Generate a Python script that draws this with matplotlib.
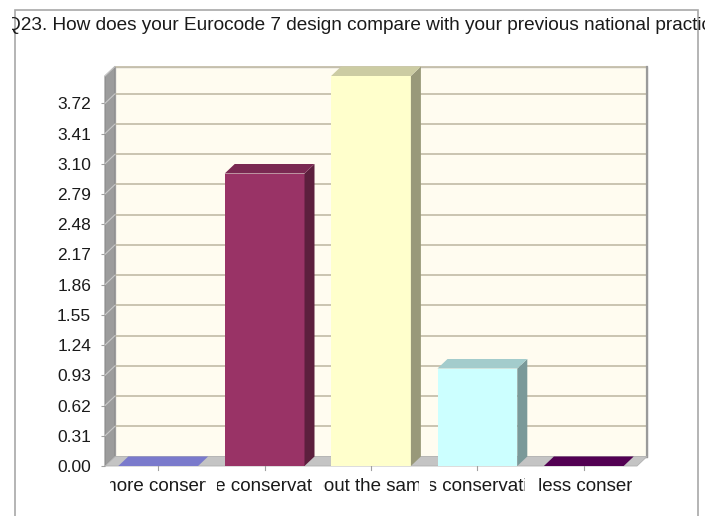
import matplotlib
matplotlib.use("Agg")
import matplotlib.pyplot as plt
from matplotlib.patches import Polygon, Rectangle
from matplotlib.transforms import Bbox, TransformedBbox
import matplotlib.colors as mcolors

# Survey answers and counts
categories = ["much more conservative", "more conservative", "about the same",
              "less conservative", "much less conservative"]
values = [0, 3, 4, 1, 0]
bar_colors = ["#9999FF", "#993366", "#FFFFCC", "#CCFFFF", "#660066"]
ytick_values = [0.00, 0.31, 0.62, 0.93, 1.24, 1.55, 1.86, 2.17, 2.48, 2.79, 3.10, 3.41, 3.72]
ytick_labels = ["0.00", "0.31", "0.62", "0.93", "1.24", "1.55", "1.86", "2.17",
                "2.48", "2.79", "3.10", "3.41", "3.72"]
title = "Q23. How does your Eurocode 7 design compare with your previous national practice?"
y_max = 4.0

plt.rcParams["font.family"] = ["Liberation Sans", "DejaVu Sans"]

W, H = 705, 516
fig = plt.figure(figsize=(W / 100, H / 100), dpi=100)
fig.patch.set_facecolor("white")

# Front plane of the 3-D box, in pixels
left_px, right_px, bottom_px, top_px = 105, 637, 466, 76
ax = fig.add_axes([left_px / W, 1 - bottom_px / H,
                   (right_px - left_px) / W, (bottom_px - top_px) / H])
n = len(categories)
ax.set_xlim(0, n)
ax.set_ylim(0, y_max)
for s in ax.spines.values():
    s.set_visible(False)
ax.patch.set_visible(False)

# Depth offset of the box (data units)
px_x = (right_px - left_px) / n
px_y = (bottom_px - top_px) / y_max
ddx = 10 / px_x
ddy = 9.5 / px_y


def shade(c, f):
    r, g, b = mcolors.to_rgb(c)
    return (r * f, g * f, b * f)


def poly(pts, fc, ec="none", lw=0.0, z=1):
    p = Polygon(pts, closed=True, facecolor=fc, edgecolor=ec, linewidth=lw,
                zorder=z, clip_on=False)
    ax.add_patch(p)
    return p


# Back wall
poly([(ddx, ddy), (n + ddx, ddy), (n + ddx, y_max + ddy), (ddx, y_max + ddy)],
     "#FFFCF0", ec="#B8B8B8", lw=1.0, z=1)
# Left side wall
poly([(0, 0), (ddx, ddy), (ddx, y_max + ddy), (0, y_max)], "#9C9C9C",
     ec="#8A8A8A", lw=0.8, z=2)
# Gridlines on back wall and side wall
for v in ytick_values + [y_max]:
    if v == 0:
        continue
    ax.plot([ddx, n + ddx], [v + ddy, v + ddy], color="#C6C0AC", lw=1.3,
            zorder=1.5, clip_on=False)
    ax.plot([0, ddx], [v, v + ddy], color="#C8C8C8", lw=0.8, zorder=2.5,
            clip_on=False)
# Right edge shadow of the back wall
ax.plot([n + ddx, n + ddx], [ddy, y_max + ddy], color="#9A9A9A", lw=1.6,
        zorder=1.6, clip_on=False)
# Floor
poly([(0, 0), (n, 0), (n + ddx, ddy), (ddx, ddy)], "#C4C4C4", ec="#B0B0B0",
     lw=0.6, z=3)

# Bars
half = 0.375
for i, (v, c) in enumerate(zip(values, bar_colors)):
    x0 = i + 0.5 - half
    x1 = i + 0.5 + half
    top_c = shade(c, 0.8)
    side_c = shade(c, 0.6)
    if v > 0:
        poly([(x0, 0), (x1, 0), (x1, v), (x0, v)], c, z=5)
        poly([(x1, 0), (x1 + ddx, ddy), (x1 + ddx, v + ddy), (x1, v)], side_c, z=5)
    poly([(x0, v), (x1, v), (x1 + ddx, v + ddy), (x0 + ddx, v + ddy)], top_c, z=5)

# Y axis ticks and labels
ax.set_yticks(ytick_values)
ax.set_yticklabels(ytick_labels, fontsize=12.5, color="#1a1a1a")
ax.tick_params(axis="y", length=3, width=0.8, color="#A0A0A0", pad=7)
ax.set_xticks([])

# Category labels, clipped to their own slot
for i, cat in enumerate(categories):
    xc = i + 0.44 + 0.015 * i
    t = ax.text(xc, -0.21, cat, ha="center", va="center", fontsize=13.5,
                color="#1a1a1a", clip_on=True)
    t.set_clip_box(TransformedBbox(Bbox([[i + 0.05, -1.0], [i + 0.95, 0.0]]),
                                   ax.transData))
    ax.plot([i + 0.5, i + 0.5], [0, -0.04], color="#A0A0A0", lw=0.8,
            clip_on=False, zorder=4)

# Outer chart frame
frame = Rectangle((15 / W, -0.05), (698 - 15) / W, 1 - 10 / H + 0.05,
                  transform=fig.transFigure, facecolor="none",
                  edgecolor="#A8A8A8", linewidth=1.2)
fig.add_artist(frame)

# Title, clipped at the chart edges
tt = fig.text(6 / W, 1 - 26 / H, title, ha="left", va="center", fontsize=13.7,
              color="#1a1a1a")
tt.set_clip_box(Bbox([[12, 0], [W, H]]))
tt.set_clip_on(True)

fig.savefig("out.png", dpi=100, facecolor="white")
